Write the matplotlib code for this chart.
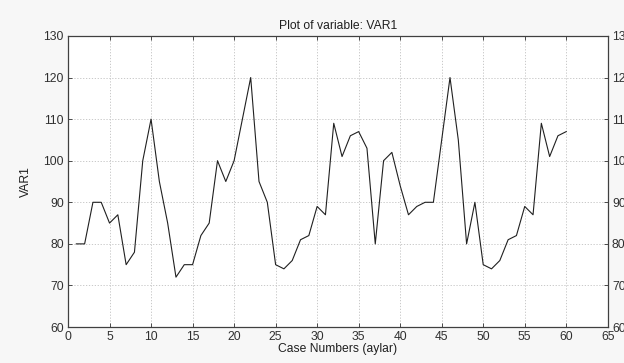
import matplotlib
matplotlib.use("Agg")
import matplotlib.pyplot as plt

# case numbers and VAR1 values
case_numbers = list(range(1, 61))
var1 = [
    80, 80, 90, 90, 85, 87, 75, 78, 100, 110,
    95, 85, 72, 75, 75, 82, 85, 100, 95, 100,
    110, 120, 95, 90, 75, 74, 76, 81, 82, 89,
    87, 109, 101, 106, 107, 103, 80, 100, 102, 94,
    87, 89, 90, 90, 105, 120, 105, 80, 90, 75,
    74, 76, 81, 82, 89, 87, 109, 101, 106, 107,
]

x_ticks = list(range(0, 66, 5))
y_ticks = list(range(60, 131, 10))

plt.rcParams["font.family"] = ["Liberation Sans", "DejaVu Sans"]

fig = plt.figure(figsize=(6.24, 3.63), dpi=100, facecolor="#f7f7f7")
ax = fig.add_axes([0.109, 0.099, 0.865, 0.802])
ax.set_facecolor("white")

ax.plot(case_numbers, var1, color="#202020", linewidth=0.8)

ax.set_xlim(0, 65)
ax.set_ylim(60, 130)
ax.set_xticks(x_ticks)
ax.set_yticks(y_ticks)
ax.grid(True, color="#c0c0c0", linestyle=(0, (1.5, 2)), linewidth=0.6)

ax.tick_params(axis="both", direction="in", length=3, width=0.6,
               labelsize=8.7, colors="#303030", pad=3,
               top=True, right=True, labelright=True)
for side in ax.spines.values():
    side.set_color("#404040")
    side.set_linewidth(0.9)

ax.set_title("Plot of variable: VAR1", fontsize=8.7, color="#202020", pad=5)
ax.set_xlabel("Case Numbers (aylar)", fontsize=8.7, color="#202020", labelpad=0)
ax.set_ylabel("VAR1", fontsize=8.7, color="#202020", labelpad=8)

fig.savefig("out.png", dpi=100, facecolor=fig.get_facecolor())
